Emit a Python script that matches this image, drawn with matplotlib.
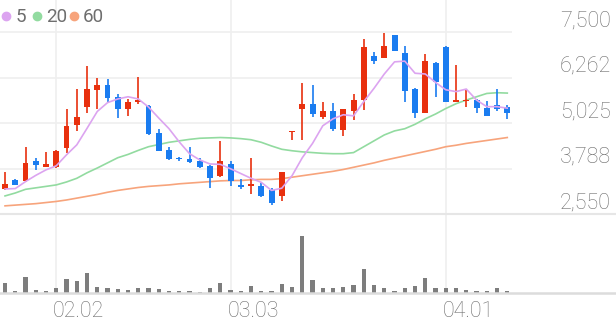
import numpy as np
import matplotlib
matplotlib.use("Agg")
import matplotlib.pyplot as plt
from matplotlib.lines import Line2D
from matplotlib.transforms import blended_transform_factory, offset_copy

plt.rcParams['font.family'] = ['Roboto', 'DejaVu Sans']

# daily candles (price in won), index 0..49
opens = [3240, 3490, 3470, 4010, 3850, 3830, 4350, 4980, 5470, 5940,
         6070, 5730, 5410, 5600, 5510, 4770, 4300, 4090, 4050, 4000,
         3870, 3580, 3910, 3350, 3310, 3330, 3200, 3060, 4790, 5420,
         5550, 5210, 5370, 4850, 5350, 5660, 6870, 6810, 7430, 6930,
         5950, 5300, 6680, 7110, 5620, 5630, 5660, 5440, 5530, 5470]
closes = [3370, 3360, 3940, 3880, 3910, 4280, 4960, 5210, 5950, 6070,
          5710, 5410, 5620, 5670, 4740, 4280, 4060, 4050, 3980, 3830,
          3540, 3990, 3470, 3290, 3380, 3060, 2850, 3700, 4830, 5550,
          5280, 5360, 4870, 5420, 5660, 7110, 6730, 7130, 7000, 5920,
          5300, 6710, 6150, 5620, 5660, 5660, 5440, 5230, 5410, 5300]
highs = [3690, 3520, 4390, 4090, 4240, 4300, 5420, 5950, 6600, 6250,
         6240, 5830, 5690, 6280, 5530, 4870, 4390, 4120, 4380, 4080,
         3900, 4550, 3990, 3520, 4090, 3410, 3260, 3710, 4830, 6130,
         6070, 5600, 5570, 5430, 5830, 7320, 6960, 7480, 7430, 7130,
         5980, 6910, 6700, 7130, 6620, 5950, 5680, 5640, 5950, 5530]
lows = [3220, 3340, 3440, 3760, 3840, 3810, 4230, 4820, 5320, 5410,
        5590, 5170, 5220, 5550, 4710, 4260, 4030, 4010, 3960, 3810,
        3260, 3560, 3310, 3240, 3110, 3010, 2810, 2920, 4560, 4560,
        5210, 5150, 4830, 4670, 5120, 5390, 6640, 6810, 7000, 5620,
        5170, 5300, 5750, 5610, 5610, 5480, 5300, 5220, 5370, 5150]

ma5 = [3240, 3250, 3440, 3610, 3760, 3870, 4170, 4440, 4890, 5350,
       5590, 5690, 5750, 5690, 5470, 5170, 4880, 4520, 4200, 4030,
       3920, 3910, 3790, 3660, 3530, 3420, 3200, 3260, 3600, 4090,
       4480, 4960, 5150, 5260, 5230, 5620, 5980, 6370, 6700, 6720,
       6390, 6370, 6140, 5940, 5890, 5960, 5660, 5480, 5480, 5440]
ma20 = [3050, 3130, 3230, 3270, 3310, 3350, 3430, 3530, 3680, 3810,
        3950, 4090, 4180, 4290, 4390, 4450, 4510, 4550, 4590, 4620,
        4630, 4640, 4630, 4610, 4580, 4510, 4410, 4320, 4280, 4250,
        4230, 4210, 4200, 4200, 4230, 4390, 4550, 4710, 4820, 4880,
        5000, 5150, 5280, 5430, 5560, 5660, 5750, 5840, 5860, 5850]
ma60 = [2780, 2800, 2820, 2840, 2870, 2900, 2940, 2990, 3040, 3090,
        3150, 3200, 3240, 3280, 3310, 3330, 3350, 3380, 3400, 3420,
        3440, 3460, 3470, 3470, 3490, 3500, 3500, 3520, 3560, 3600,
        3640, 3680, 3720, 3770, 3830, 3890, 3950, 4020, 4080, 4140,
        4200, 4260, 4320, 4390, 4430, 4480, 4520, 4560, 4600, 4640]

volumes = [32, 7, 50, 10, 7, 15, 42, 37, 60, 20,
           15, 13, 10, 15, 17, 13, 8, 6, 6, 5,
           15, 30, 10, 7, 22, 6, 6, 28, 20, 173,
           40, 16, 17, 18, 25, 73, 24, 15, 7, 16,
           23, 47, 17, 17, 17, 10, 7, 7, 15, 6]

price_ticks = [2550, 3788, 5025, 6262, 7500]
price_labels = ["2,550", "3,788", "5,025", "6,262", "7,500"]
date_idx = [5, 22, 43]
date_labels = ["02.02", "03.03", "04.01"]

UP = '#e8300e'
DOWN = '#1a7cf0'
TEXT = '#6e6e6e'
GRID = '#efefef'

W, H = 616, 321
fig = plt.figure(figsize=(W / 100, H / 100), dpi=100)

y_bot = 214.3
y_vol = 293.3
x_right = 512

ax = fig.add_axes([0, 1 - y_bot / H, x_right / W, y_bot / H])
axv = fig.add_axes([0, 1 - y_vol / H, x_right / W, (y_vol - y_bot) / H])

n = len(opens)
idx = np.arange(n)
xlim = (-0.49, 49.46)

# price panel
ax.set_xlim(*xlim)
ax.set_ylim(2550, 8384)
for a in (ax, axv):
    a.axis('off')

for p in price_ticks[1:]:
    ax.axhline(p, color=GRID, lw=1.2, zorder=0)
for i in date_idx:
    ax.axvline(i, color=GRID, lw=1.2, zorder=0)
    axv.axvline(i, color=GRID, lw=1.2, zorder=0)

ax.plot(idx, ma60, color='#f7a47c', lw=1.2, zorder=1)
ax.plot(idx, ma20, color='#92dba0', lw=1.2, zorder=1)

o = np.array(opens)
c = np.array(closes)
colors = [UP if c[i] >= o[i] else DOWN for i in range(n)]
ax.vlines(idx, lows, highs, colors=colors, lw=1.2, zorder=2)
body_lo = np.minimum(o, c)
body_h = np.maximum(np.abs(c - o), 35)
ax.bar(idx, body_h, bottom=body_lo, width=0.58, color=colors, zorder=3)

ax.plot(idx, ma5, color='#dca4f0', lw=1.2, zorder=4)

# price labels on the right, sitting above their grid lines
tr = blended_transform_factory(fig.transFigure, ax.transData)
tr = offset_copy(tr, fig=fig, x=0, y=6, units='dots')
for p, lab in zip(price_ticks, price_labels):
    ax.text(611 / W, p, lab, transform=tr, ha='right', va='baseline',
            fontsize=15.5, fontweight='light', color=TEXT, clip_on=False)

# volume panel
axv.set_xlim(*xlim)
axv.set_ylim(0, 237)
axv.bar(idx, volumes, width=0.4, color='#7d7d7d', zorder=2)

trv = blended_transform_factory(axv.transData, axv.transAxes)
for i, lab in zip(date_idx, date_labels):
    axv.text(i - 0.3, -0.304, lab, transform=trv, ha='left', va='baseline',
             fontsize=15.5, fontweight='light', color=TEXT, clip_on=False)

# full width separator lines
fig.add_artist(Line2D([0, 1], [1 - y_bot / H] * 2, color='#e6e6e6', lw=1.5,
                      transform=fig.transFigure))
fig.add_artist(Line2D([0, 1], [1 - y_vol / H] * 2, color='#dcdcdc', lw=1.8,
                      transform=fig.transFigure))

# legend
legend_items = [(6, 16, "5", '#dca4f0'), (36.5, 46, "20", '#92dba0'),
                (74, 83, "60", '#f7a47c')]
for xc, xt, lab, col in legend_items:
    fig.add_artist(Line2D([xc / W], [1 - 15.7 / H], marker='o', markersize=6,
                          color=col, lw=0, transform=fig.transFigure))
    fig.text(xt / W, 1 - 21.7 / H, lab, ha='left', va='baseline',
             fontsize=13.5, color=TEXT)

fig.savefig('out.png', dpi=100, facecolor='white')
